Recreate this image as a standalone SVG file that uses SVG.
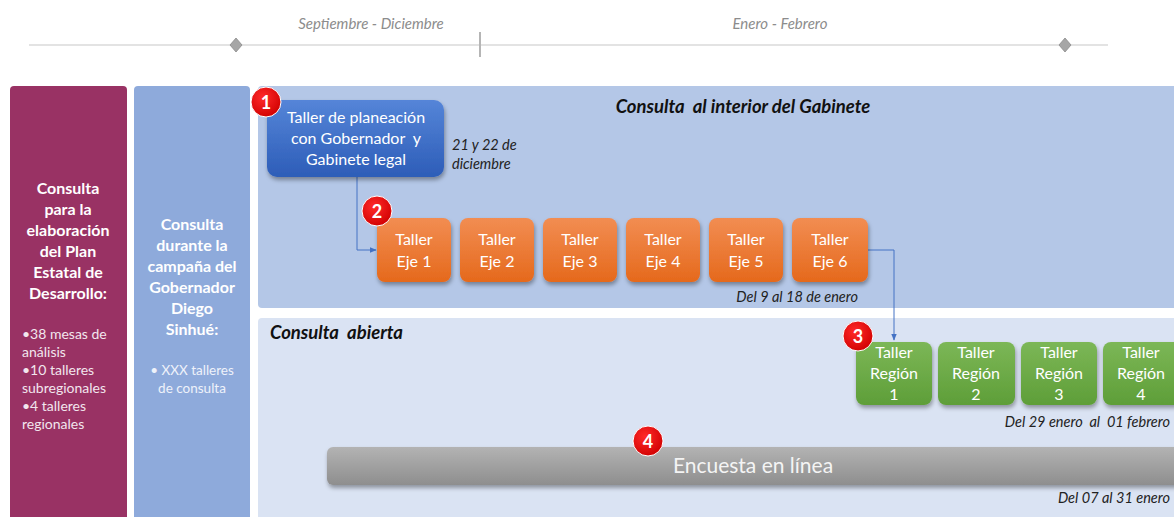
<svg xmlns="http://www.w3.org/2000/svg" width="1174" height="517" viewBox="0 0 1174 517">
<style>
.tl{font-family:Lato,"Liberation Sans",sans-serif;font-style:italic;font-size:15px;fill:#8c8c8c;text-anchor:middle}
.side{font-family:Lato,"Liberation Sans",sans-serif;font-weight:bold;font-size:16px;fill:#fff;text-anchor:middle}
.bul{font-family:Lato,"Liberation Sans",sans-serif;font-size:14px;fill:#f2e6ee}
.bul2{font-family:Lato,"Liberation Sans",sans-serif;font-size:13.5px;fill:#eef2fa;text-anchor:middle}
.title{font-family:Lato,"Liberation Sans",sans-serif;font-weight:bold;font-style:italic;font-size:18.5px;fill:#111;white-space:pre}
.date{font-family:Lato,"Liberation Sans",sans-serif;font-style:italic;font-size:14.5px;fill:#222;white-space:pre}
.nt{font-family:Lato,"Liberation Sans",sans-serif;font-size:16px;fill:#fff;text-anchor:middle}
.badge{stroke:#fff;stroke-width:1}
.bt{font-family:Lato,"Liberation Sans",sans-serif;font-weight:bold;font-size:18px;fill:#fff;text-anchor:middle}
.conn{fill:none;stroke:#4472c4;stroke-width:1}
</style>
<defs>
<linearGradient id="gBlue" x1="0" y1="0" x2="0" y2="1"><stop offset="0" stop-color="#5585d8"/><stop offset="1" stop-color="#2d5db8"/></linearGradient>
<linearGradient id="gOr" x1="0" y1="0" x2="0" y2="1"><stop offset="0" stop-color="#f28d52"/><stop offset="1" stop-color="#e5691c"/></linearGradient>
<linearGradient id="gGr" x1="0" y1="0" x2="0" y2="1"><stop offset="0" stop-color="#7cb757"/><stop offset="1" stop-color="#5e9e38"/></linearGradient>
<linearGradient id="gGy" x1="0" y1="0" x2="0" y2="1"><stop offset="0" stop-color="#b3b3b3"/><stop offset="1" stop-color="#8e8e8e"/></linearGradient>
<radialGradient id="gRed" cx="0.4" cy="0.35" r="0.7"><stop offset="0" stop-color="#ff2a2a"/><stop offset="1" stop-color="#d00000"/></radialGradient>
<filter id="sh" x="-20%" y="-20%" width="140%" height="150%"><feDropShadow dx="1" dy="3" stdDeviation="2" flood-color="#000" flood-opacity="0.35"/></filter>
<marker id="arr" viewBox="0 0 10 10" refX="9" refY="5" markerWidth="7" markerHeight="7" orient="auto"><path d="M0,1 L10,5 L0,9 z" fill="#4472c4"/></marker>
</defs>
<rect width="1174" height="517" fill="#fff"/>

<g id="timeline">
<line x1="29" y1="45" x2="1108" y2="45" stroke="#e3e3e3" stroke-width="2"/>
<line x1="480" y1="32" x2="480" y2="57" stroke="#b5b5b5" stroke-width="2"/>
<path d="M236,38 L242,45 L236,52 L230,45 Z" fill="#a6a6a6" stroke="#8c8c8c" stroke-width="0.8"/>
<path d="M1065,38 L1071,45 L1065,52 L1059,45 Z" fill="#a6a6a6" stroke="#8c8c8c" stroke-width="0.8"/>
<text class="tl" x="371" y="29">Septiembre - Diciembre</text>
<text class="tl" x="780" y="29">Enero - Febrero</text>
</g>

<g id="panel-plan">
<path d="M10,90 Q10,86 14,86 L123,86 Q127,86 127,90 L127,517 L10,517 Z" fill="#993264"/>
<text class="side" x="68" y="194">Consulta</text>
<text class="side" x="68" y="215">para la</text>
<text class="side" x="68" y="236">elaboración</text>
<text class="side" x="68" y="257">del Plan</text>
<text class="side" x="68" y="278">Estatal de</text>
<text class="side" x="68" y="299">Desarrollo:</text>
<text class="bul" x="22" y="339">•38 mesas de</text>
<text class="bul" x="22" y="357">análisis</text>
<text class="bul" x="22" y="375">•10 talleres</text>
<text class="bul" x="22" y="393">subregionales</text>
<text class="bul" x="22" y="411">•4 talleres</text>
<text class="bul" x="22" y="429">regionales</text>
</g>

<g id="panel-campana">
<path d="M134,90 Q134,86 138,86 L246,86 Q250,86 250,90 L250,517 L134,517 Z" fill="#8eaadb"/>
<text class="side" x="192" y="230">Consulta</text>
<text class="side" x="192" y="251">durante la</text>
<text class="side" x="192" y="272">campaña del</text>
<text class="side" x="192" y="293">Gobernador</text>
<text class="side" x="192" y="314">Diego</text>
<text class="side" x="192" y="335">Sinhué:</text>
<text class="bul2" x="192" y="375">• XXX talleres</text>
<text class="bul2" x="192" y="393">de consulta</text>
</g>

<g id="section-gabinete">
<path d="M258,90 Q258,86 262,86 L1174,86 L1174,308 L262,308 Q258,308 258,304 Z" fill="#b4c7e7"/>
<text class="title" x="743" y="113" text-anchor="middle">Consulta  al interior del Gabinete</text>
</g>

<g id="section-abierta">
<path d="M258,322 Q258,318 262,318 L1174,318 L1174,517 L258,517 Z" fill="#dae3f3"/>
<text class="title" x="270" y="339">Consulta  abierta</text>
</g>

<g id="connectors">
<path class="conn" d="M357,177 L357,250 L376,250" marker-end="url(#arr)"/>
<path class="conn" d="M868,250 L894,250 L894,340" marker-end="url(#arr)"/>
</g>

<g id="node-taller-planeacion">
<rect x="267" y="100" width="177" height="77" rx="10" fill="url(#gBlue)" filter="url(#sh)"/>
<text class="nt" x="356" y="123">Taller de planeación</text>
<text class="nt" x="356" y="144" style="white-space:pre">con Gobernador  y</text>
<text class="nt" x="356" y="165">Gabinete legal</text>
<text class="date" x="452" y="150">21 y 22 de</text>
<text class="date" x="452" y="169">diciembre</text>
</g>
<g id="badge-1"><circle class="badge" cx="266" cy="102" r="15" fill="url(#gRed)"/><text class="bt" x="266" y="109">1</text></g>

<g id="node-eje-1"><rect x="377" y="218" width="74" height="64" rx="8" fill="url(#gOr)" filter="url(#sh)"/><text class="nt" x="414" y="245">Taller</text><text class="nt" x="414" y="267">Eje 1</text></g>
<g id="node-eje-2"><rect x="460" y="218" width="74" height="64" rx="8" fill="url(#gOr)" filter="url(#sh)"/><text class="nt" x="497" y="245">Taller</text><text class="nt" x="497" y="267">Eje 2</text></g>
<g id="node-eje-3"><rect x="543" y="218" width="74" height="64" rx="8" fill="url(#gOr)" filter="url(#sh)"/><text class="nt" x="580" y="245">Taller</text><text class="nt" x="580" y="267">Eje 3</text></g>
<g id="node-eje-4"><rect x="626" y="218" width="74" height="64" rx="8" fill="url(#gOr)" filter="url(#sh)"/><text class="nt" x="663" y="245">Taller</text><text class="nt" x="663" y="267">Eje 4</text></g>
<g id="node-eje-5"><rect x="709" y="218" width="74" height="64" rx="8" fill="url(#gOr)" filter="url(#sh)"/><text class="nt" x="746" y="245">Taller</text><text class="nt" x="746" y="267">Eje 5</text></g>
<g id="node-eje-6"><rect x="792" y="218" width="76" height="64" rx="8" fill="url(#gOr)" filter="url(#sh)"/><text class="nt" x="830" y="245">Taller</text><text class="nt" x="830" y="267">Eje 6</text></g>
<g id="badge-2"><circle class="badge" cx="377" cy="211" r="15" fill="url(#gRed)"/><text class="bt" x="377" y="218">2</text></g>
<text class="date" x="858" y="302" text-anchor="end">Del 9 al 18 de enero</text>

<g id="node-region-1"><rect x="856" y="342" width="76" height="63" rx="8" fill="url(#gGr)" filter="url(#sh)"/><text class="nt" x="894" y="358">Taller</text><text class="nt" x="894" y="379">Región</text><text class="nt" x="894" y="400">1</text></g>
<g id="node-region-2"><rect x="938" y="342" width="77" height="63" rx="8" fill="url(#gGr)" filter="url(#sh)"/><text class="nt" x="976" y="358">Taller</text><text class="nt" x="976" y="379">Región</text><text class="nt" x="976" y="400">2</text></g>
<g id="node-region-3"><rect x="1021" y="342" width="76" height="63" rx="8" fill="url(#gGr)" filter="url(#sh)"/><text class="nt" x="1059" y="358">Taller</text><text class="nt" x="1059" y="379">Región</text><text class="nt" x="1059" y="400">3</text></g>
<g id="node-region-4"><rect x="1103" y="342" width="80" height="63" rx="8" fill="url(#gGr)" filter="url(#sh)"/><text class="nt" x="1141" y="358">Taller</text><text class="nt" x="1141" y="379">Región</text><text class="nt" x="1141" y="400">4</text></g>
<g id="badge-3"><circle class="badge" cx="858" cy="336" r="15" fill="url(#gRed)"/><text class="bt" x="858" y="343">3</text></g>
<text class="date" x="1170" y="427" text-anchor="end">Del 29 enero  al  01 febrero</text>

<g id="node-encuesta"><rect x="327" y="447" width="860" height="38" rx="6" fill="url(#gGy)" filter="url(#sh)"/><text class="nt" x="753" y="473" style="font-size:21px;fill:#f4f4f4">Encuesta en línea</text></g>
<g id="badge-4"><circle class="badge" cx="648" cy="441" r="15" fill="url(#gRed)"/><text class="bt" x="648" y="448">4</text></g>
<text class="date" x="1170" y="503" text-anchor="end">Del 07 al 31 enero</text>
</svg>
